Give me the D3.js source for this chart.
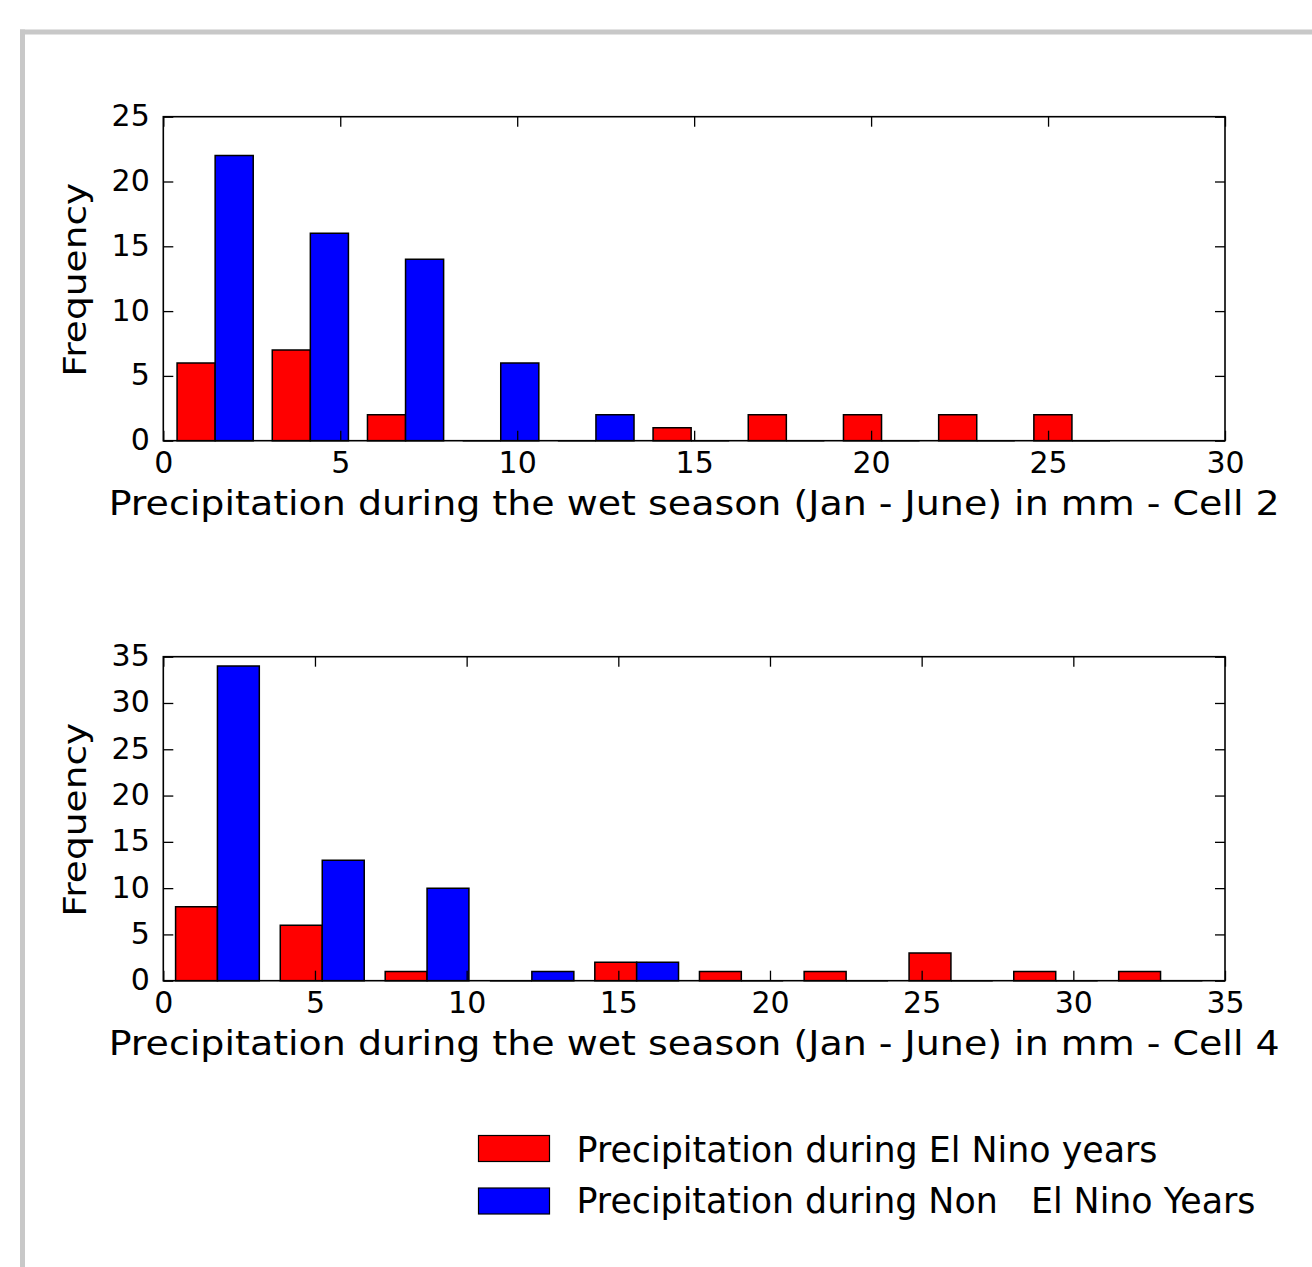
<!DOCTYPE html>
<html>
<head>
<meta charset="utf-8">
<script src="https://cdn.jsdelivr.net/npm/d3@7"></script>
<style>
  html, body { margin: 0; padding: 0; background: #ffffff; }
  svg { display: block; }
  text { font-family: "DejaVu Sans", sans-serif; fill: #000; }
</style>
</head>
<body>
<svg id="chart" width="1312" height="1267"></svg>
<script>
// ---------------- DATA ----------------
// Cell 2 histogram (10 bins)
const cell2BinEdges = [0.12, 2.81, 5.50, 8.19, 10.88, 13.57, 16.26, 18.95, 21.64, 24.33, 27.02];
const cell2ElNino    = [6, 7, 2, 0, 0, 1, 2, 2, 2, 2];
const cell2NonElNino = [22, 16, 14, 6, 2, 0, 0, 0, 0, 0];
const cell2XTicks = [0, 5, 10, 15, 20, 25, 30];
const cell2YTicks = [0, 5, 10, 15, 20, 25];

// Cell 4 histogram (10 bins)
const cell4BinEdges = [0.06, 3.51, 6.97, 10.42, 13.88, 17.33, 20.78, 24.24, 27.69, 31.15, 34.60];
const cell4ElNino    = [8, 6, 1, 0, 2, 1, 1, 3, 1, 1];
const cell4NonElNino = [34, 13, 10, 1, 2, 0, 0, 0, 0, 0];
const cell4XTicks = [0, 5, 10, 15, 20, 25, 30, 35];
const cell4YTicks = [0, 5, 10, 15, 20, 25, 30, 35];

const xLabels = [
  "Precipitation during the wet season (Jan - June) in mm - Cell 2",
  "Precipitation during the wet season (Jan - June) in mm - Cell 4"
];
const yLabel = "Frequency";
const seriesNames = ["Precipitation during El Nino years", "Precipitation during Non   El Nino Years"];
const seriesColors = ["#ff0000", "#0000ff"];

// ---------------- LAYOUT ----------------
const svg = d3.select("#chart");
const W = 1312, H = 1267;

// page frame (grey border of the embedded image)
svg.append("rect").attr("x", 20).attr("y", 29.5).attr("width", 5).attr("height", H - 29.5).attr("fill", "#c8c8c8");
svg.append("rect").attr("x", 20).attr("y", 29.5).attr("width", W - 20).attr("height", 5).attr("fill", "#c8c8c8");

const axLeft = 163.3, axRight = 1225;
const panels = [
  { top: 116.7, bottom: 440.7, bins: cell2BinEdges, series: [cell2ElNino, cell2NonElNino],
    xTicks: cell2XTicks, yTicks: cell2YTicks, xLabel: xLabels[0] },
  { top: 656.7, bottom: 980.7, bins: cell4BinEdges, series: [cell4ElNino, cell4NonElNino],
    xTicks: cell4XTicks, yTicks: cell4YTicks, xLabel: xLabels[1] }
];

const tickFont = 30;

panels.forEach(p => {
  const x = d3.scaleLinear()
    .domain([p.xTicks[0], p.xTicks[p.xTicks.length - 1]])
    .range([axLeft, axRight]);
  const y = d3.scaleLinear()
    .domain([p.yTicks[0], p.yTicks[p.yTicks.length - 1]])
    .range([p.bottom, p.top]);

  const g = svg.append("g");

  // bars (side by side, total 80% of bin width, like matplotlib hist)
  const nx = p.series.length;
  p.series.forEach((vals, si) => {
    vals.forEach((v, i) => {
      const L = p.bins[i], R = p.bins[i + 1];
      const bw = R - L;
      const x0 = L + bw * 0.1 + si * bw * 0.8 / nx;
      const x1 = x0 + bw * 0.8 / nx;
      const path = d3.path();
      path.moveTo(x(x0), y(0));
      path.lineTo(x(x0), y(v));
      path.lineTo(x(x1), y(v));
      path.lineTo(x(x1), y(0));
      path.closePath();
      g.append("path")
        .attr("d", path.toString())
        .attr("fill", seriesColors[si])
        .attr("stroke", "#000")
        .attr("stroke-width", 1.5)
        .attr("stroke-linejoin", "miter");
    });
  });

  // axes (inward ticks on all four sides)
  const axB = g.append("g").attr("transform", `translate(0,${p.bottom})`)
    .call(d3.axisBottom(x).tickValues(p.xTicks).tickSize(-10).tickFormat(d3.format("d")));
  const axT = g.append("g").attr("transform", `translate(0,${p.top})`)
    .call(d3.axisTop(x).tickValues(p.xTicks).tickSize(-10).tickFormat(""));
  const axL = g.append("g").attr("transform", `translate(${axLeft},0)`)
    .call(d3.axisLeft(y).tickValues(p.yTicks).tickSize(-10).tickFormat(d3.format("d")));
  const axR = g.append("g").attr("transform", `translate(${axRight},0)`)
    .call(d3.axisRight(y).tickValues(p.yTicks).tickSize(-10).tickFormat(""));

  [axB, axT, axL, axR].forEach(a => {
    a.select(".domain").remove();
    a.selectAll(".tick line").attr("stroke", "#000").attr("stroke-width", 1.3);
  });
  axB.selectAll(".tick text")
    .attr("y", 32.5).attr("dy", null)
    .style("font-family", "DejaVu Sans").style("font-size", tickFont + "px");
  axL.selectAll(".tick text")
    .attr("x", -13.5).attr("dy", "0.3em")
    .style("font-family", "DejaVu Sans").style("font-size", tickFont + "px");
  [axT, axR].forEach(a => a.selectAll(".tick text").remove());

  // frame
  g.append("rect")
    .attr("x", axLeft).attr("y", p.top)
    .attr("width", axRight - axLeft).attr("height", p.bottom - p.top)
    .attr("fill", "none").attr("stroke", "#000").attr("stroke-width", 1.6);

  // x label
  g.append("text")
    .attr("x", (axLeft + axRight) / 2)
    .attr("y", p.bottom + 74.5)
    .attr("text-anchor", "middle")
    .attr("textLength", 1171)
    .attr("lengthAdjust", "spacingAndGlyphs")
    .style("font-size", "34.5px")
    .text(p.xLabel);

  // y label
  g.append("text")
    .attr("transform", `translate(86,${(p.top + p.bottom) / 2 + 1}) rotate(-90)`)
    .attr("text-anchor", "middle")
    .attr("textLength", 194)
    .attr("lengthAdjust", "spacingAndGlyphs")
    .style("font-size", "32px")
    .text(yLabel);
});

// ---------------- LEGEND ----------------
const legend = svg.append("g");
const legendRows = [
  { patchY: 1135.5, baseY: 1161.5, width: 581 },
  { patchY: 1188, baseY: 1213, width: 679 }
];
seriesNames.forEach((name, i) => {
  const r = legendRows[i];
  legend.append("rect")
    .attr("x", 478.5).attr("y", r.patchY)
    .attr("width", 71).attr("height", 26)
    .attr("fill", seriesColors[i])
    .attr("stroke", "#000").attr("stroke-width", 1.2);
  legend.append("text")
    .attr("x", 576.5).attr("y", r.baseY)
    .attr("textLength", r.width)
    .attr("lengthAdjust", "spacingAndGlyphs")
    .attr("xml:space", "preserve")
    .style("white-space", "pre")
    .style("font-size", "36px")
    .text(name);
});
</script>
</body>
</html>
